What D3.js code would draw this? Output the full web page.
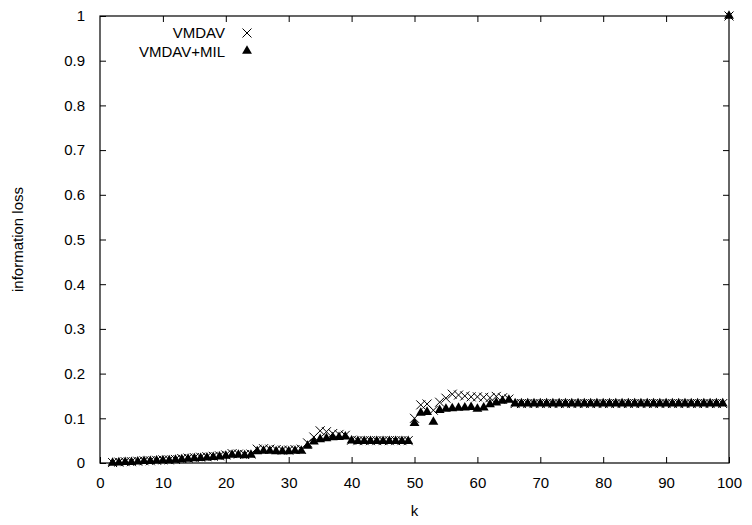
<!DOCTYPE html>
<html>
<head>
<meta charset="utf-8">
<script src="https://cdn.jsdelivr.net/npm/d3@7"></script>
<style>
  body { margin: 0; background: #fff; }
  svg { display: block; font-family: "Liberation Sans", Arial, sans-serif; }
</style>
</head>
<body>
<div id="chart"></div>
<script>
const width = 752;
const height = 525;
const margins = {top: 16, right: 23, bottom: 62, left: 100};

// k values 2..100
const kValues = d3.range(2, 101);

// VMDAV (crosses)
const vmdav = [
  0.001, 0.002, 0.003, 0.003, 0.004, 0.005, 0.005, 0.006, 0.007, 0.007, // 2-11
  0.008, 0.010, 0.011, 0.012, 0.013, 0.014, 0.015, 0.016, 0.018, 0.021, // 12-21
  0.020, 0.019, 0.020, 0.031, 0.032, 0.031, 0.030, 0.029, 0.029, 0.030, // 22-31
  0.031, 0.045, 0.058, 0.072, 0.070, 0.066, 0.064, 0.062, 0.051, 0.050, // 32-41
  0.050, 0.050, 0.050, 0.050, 0.050, 0.050, 0.050, 0.050, 0.100, 0.130, // 42-51
  0.132, 0.118, 0.136, 0.145, 0.154, 0.152, 0.150, 0.148, 0.148, 0.147, // 52-61
  0.146, 0.149, 0.146, 0.143, 0.133, 0.133, 0.133, 0.133, 0.133, 0.133, // 62-71
  0.133, 0.133, 0.133, 0.133, 0.133, 0.133, 0.133, 0.133, 0.133, 0.133, // 72-81
  0.133, 0.133, 0.133, 0.133, 0.133, 0.133, 0.133, 0.133, 0.133, 0.133, // 82-91
  0.133, 0.133, 0.133, 0.133, 0.133, 0.133, 0.133, 0.133, 1.000          // 92-100
];

// VMDAV+MIL (triangles)
const vmdavMil = [
  0.000, 0.001, 0.002, 0.002, 0.003, 0.004, 0.004, 0.005, 0.006, 0.006, // 2-11
  0.007, 0.008, 0.009, 0.010, 0.011, 0.012, 0.013, 0.014, 0.016, 0.018, // 12-21
  0.018, 0.017, 0.018, 0.026, 0.027, 0.027, 0.026, 0.026, 0.026, 0.027, // 22-31
  0.027, 0.038, 0.048, 0.053, 0.055, 0.057, 0.058, 0.059, 0.050, 0.049, // 32-41
  0.049, 0.049, 0.049, 0.049, 0.049, 0.049, 0.049, 0.049, 0.089, 0.112, // 42-51
  0.114, 0.092, 0.118, 0.121, 0.122, 0.123, 0.124, 0.125, 0.121, 0.124, // 52-61
  0.131, 0.135, 0.139, 0.141, 0.133, 0.133, 0.133, 0.133, 0.133, 0.133, // 62-71
  0.133, 0.133, 0.133, 0.133, 0.133, 0.133, 0.133, 0.133, 0.133, 0.133, // 72-81
  0.133, 0.133, 0.133, 0.133, 0.133, 0.133, 0.133, 0.133, 0.133, 0.133, // 82-91
  0.133, 0.133, 0.133, 0.133, 0.133, 0.133, 0.133, 0.133, 1.000          // 92-100
];

const xTicks = d3.range(0, 101, 10);
const yTicks = d3.range(0, 11).map(d => d / 10);
const seriesNames = ["VMDAV", "VMDAV+MIL"];

const svg = d3.select("#chart")
  .append("svg")
  .attr("width", width)
  .attr("height", height);

const xScale = d3.scaleLinear()
  .domain([0, 100])
  .range([margins.left, width - margins.right]);

const yScale = d3.scaleLinear()
  .domain([0, 1])
  .range([height - margins.bottom, margins.top]);

const x0 = xScale(0), x1 = xScale(100), y0 = yScale(0), y1 = yScale(1);

// axes, ticks pointing inward, mirrored on top and right
svg.append("g")
  .attr("transform", "translate(0," + y0 + ")")
  .call(d3.axisBottom(xScale).tickValues(xTicks).tickSizeInner(-6).tickSizeOuter(0).tickPadding(14).tickFormat(d3.format("d")))
  .call(g => g.select(".domain").remove())
  .selectAll("text").attr("font-size", "15px").attr("fill", "#000");

svg.append("g")
  .attr("transform", "translate(0," + y1 + ")")
  .call(d3.axisTop(xScale).tickValues(xTicks.slice(1, -1)).tickSizeInner(-6).tickSizeOuter(0).tickFormat(""))
  .call(g => g.select(".domain").remove());

svg.append("g")
  .attr("transform", "translate(" + x0 + ",0)")
  .call(d3.axisLeft(yScale).tickValues(yTicks).tickSizeInner(-6).tickSizeOuter(0).tickPadding(15).tickFormat(d => d === 0 || d === 1 ? d3.format("d")(d) : d3.format(".1f")(d)))
  .call(g => g.select(".domain").remove())
  .selectAll("text").attr("font-size", "15px").attr("fill", "#000");

svg.append("g")
  .attr("transform", "translate(" + x1 + ",0)")
  .call(d3.axisRight(yScale).tickValues(yTicks.slice(1, -1)).tickSizeInner(-6).tickSizeOuter(0).tickFormat(""))
  .call(g => g.select(".domain").remove());

svg.selectAll(".tick line").attr("stroke", "#000");

svg.append("rect")
  .attr("x", x0).attr("y", y1)
  .attr("width", x1 - x0).attr("height", y0 - y1)
  .attr("fill", "none").attr("stroke", "#000").attr("stroke-width", 1.2);

// labels
svg.append("text")
  .attr("x", (x0 + x1) / 2).attr("y", 516)
  .attr("text-anchor", "middle").attr("font-size", "15px")
  .text("k");

svg.append("text")
  .attr("transform", "translate(23," + ((y0 + y1) / 2) + ") rotate(-90)")
  .attr("text-anchor", "middle").attr("font-size", "15px")
  .text("information loss");

const crossPath = "M-4.5,-4.5L4.5,4.5M-4.5,4.5L4.5,-4.5";
const triPath = d3.symbol().type(d3.symbolTriangle).size(42)();

// crosses
svg.append("g")
  .selectAll("path")
  .data(kValues)
  .join("path")
  .attr("transform", (k, i) => "translate(" + xScale(k) + "," + yScale(vmdav[i]) + ")")
  .attr("d", crossPath)
  .attr("stroke", "#000").attr("stroke-width", 1).attr("fill", "none");

// triangles
svg.append("g")
  .selectAll("path")
  .data(kValues)
  .join("path")
  .attr("transform", (k, i) => "translate(" + xScale(k) + "," + yScale(vmdavMil[i]) + ")")
  .attr("d", triPath)
  .attr("fill", "#000");

// legend
const legend = svg.append("g");
legend.selectAll("text")
  .data(seriesNames)
  .join("text")
  .attr("x", 225).attr("y", (d, i) => 38 + i * 19)
  .attr("text-anchor", "end").attr("font-size", "15px")
  .text(d => d);

legend.append("path")
  .attr("transform", "translate(247,33)")
  .attr("d", crossPath)
  .attr("stroke", "#000").attr("fill", "none");

legend.append("path")
  .attr("transform", "translate(247,51)")
  .attr("d", triPath)
  .attr("fill", "#000");
</script>
</body>
</html>
